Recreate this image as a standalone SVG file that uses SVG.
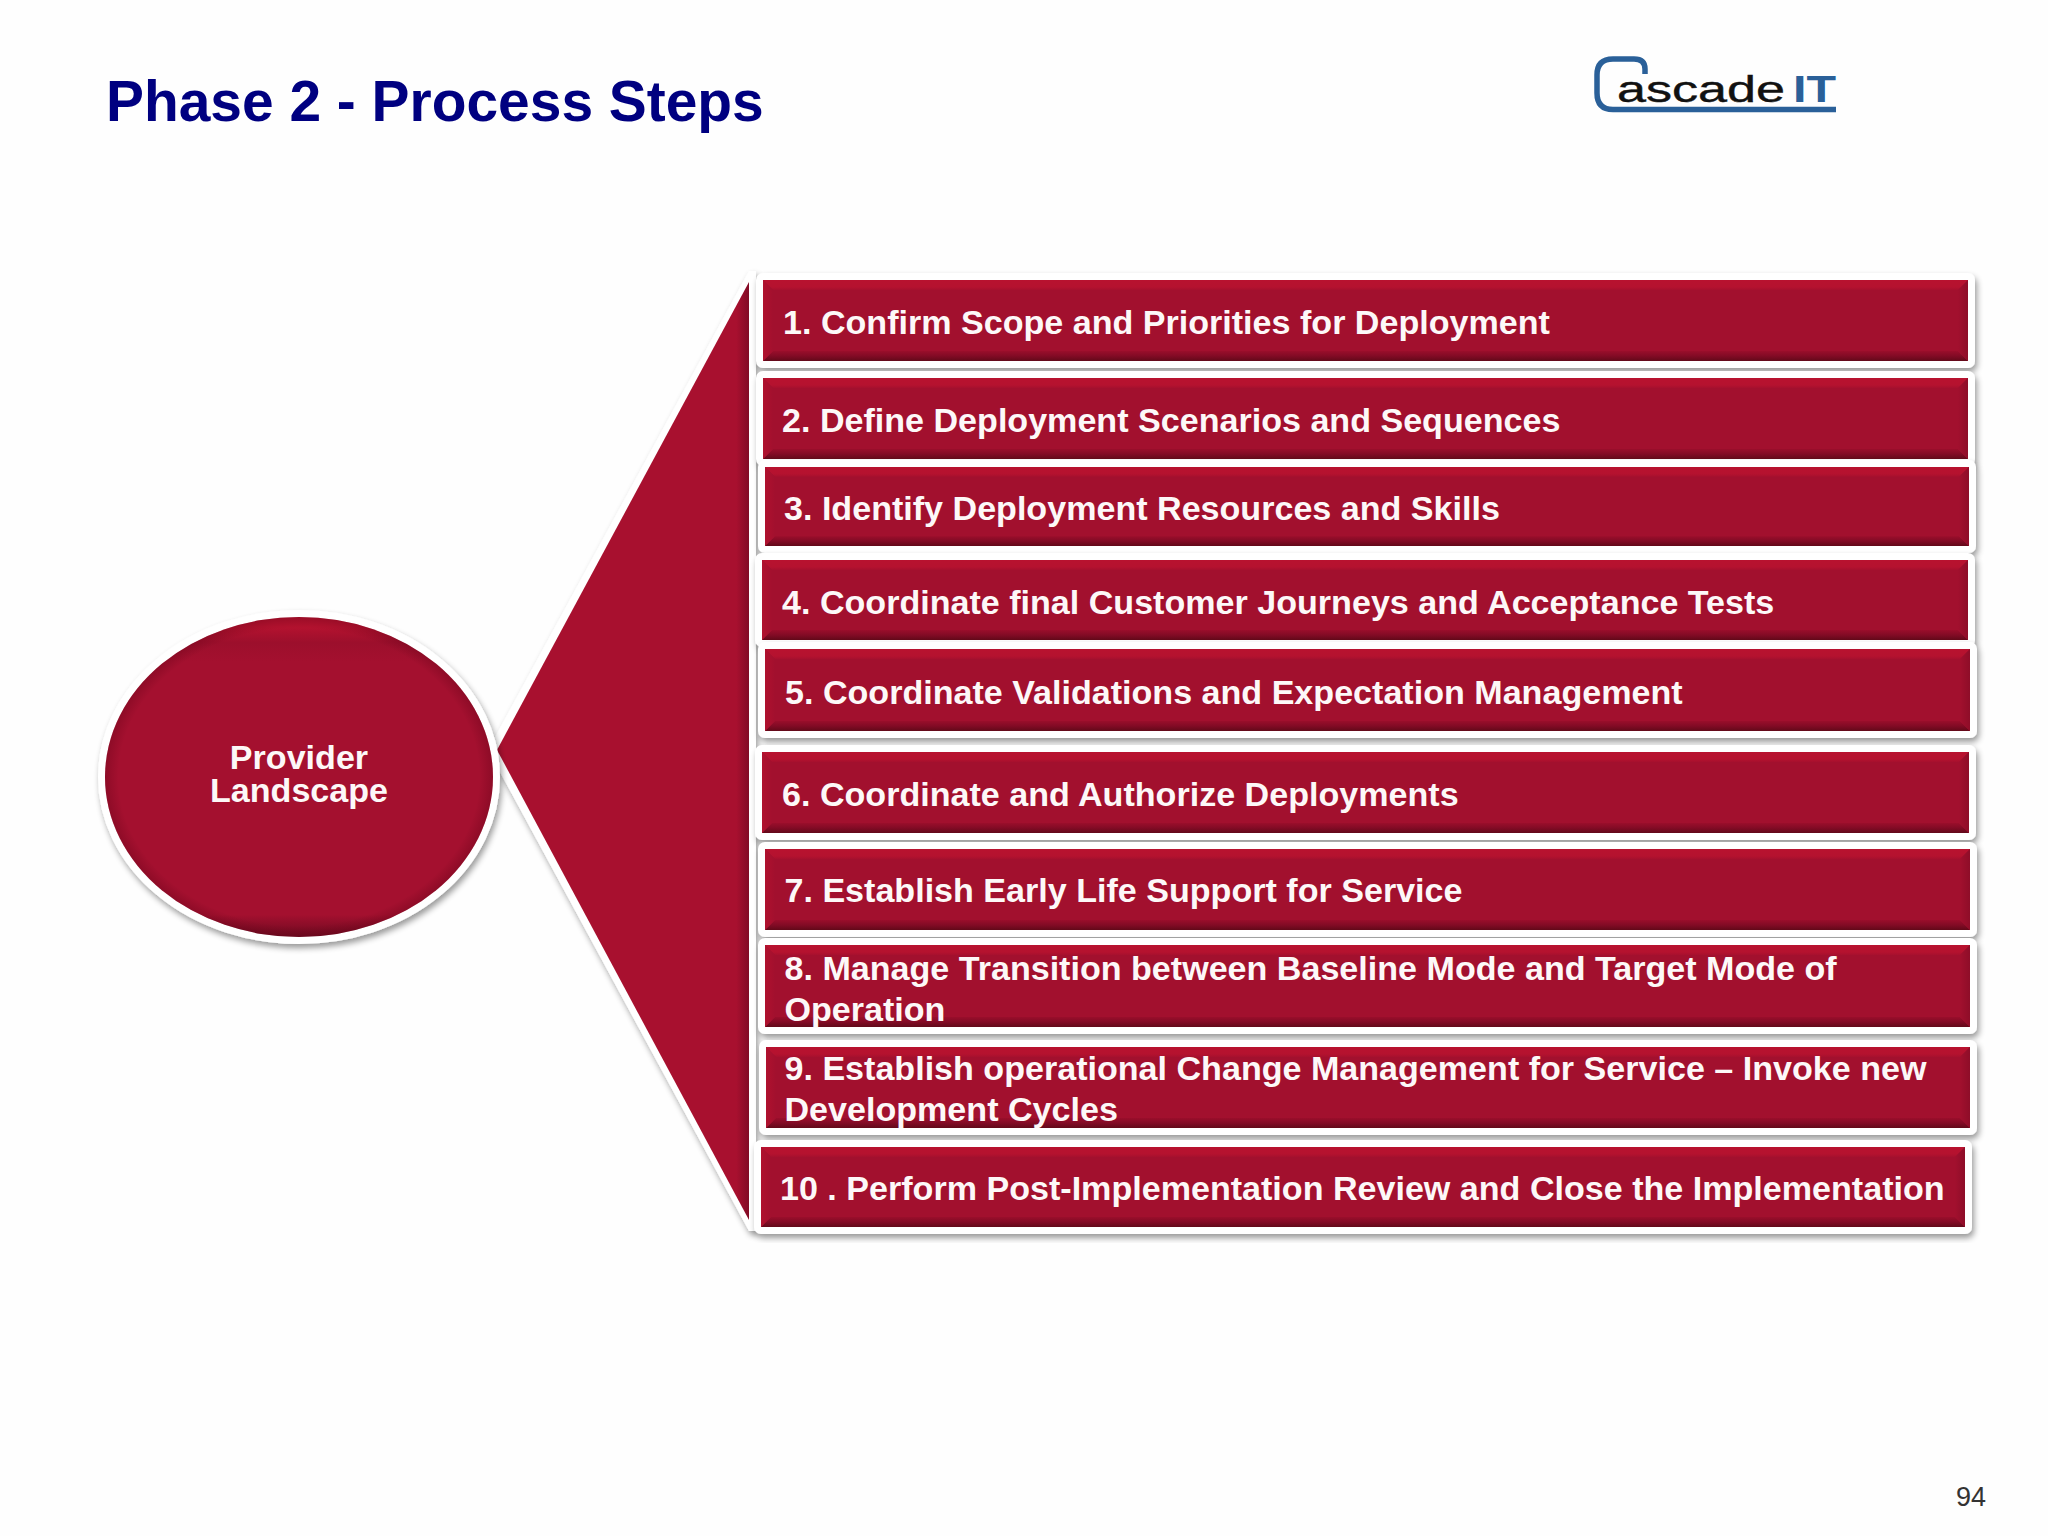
<svg xmlns="http://www.w3.org/2000/svg" xmlns:xlink="http://www.w3.org/1999/xlink" width="2048" height="1536" viewBox="0 0 2048 1536">
<style>
.t{font-family:"Liberation Sans",Arial,sans-serif;font-weight:700;font-size:34.1px;fill:#fdf8f8}
.f{fill:#fff;stroke:#fff;stroke-width:14;stroke-linejoin:round;filter:url(#sh)}
</style>
<defs>
<filter id="sh" x="-5%" y="-20%" width="110%" height="140%"><feGaussianBlur in="SourceAlpha" stdDeviation="3"/><feOffset dx="2" dy="4"/><feComponentTransfer><feFuncA type="linear" slope="0.4"/></feComponentTransfer><feMerge><feMergeNode/><feMergeNode in="SourceGraphic"/></feMerge></filter>
<linearGradient id="gt" x1="0" y1="0" x2="0" y2="1"><stop offset="0" stop-color="#b8122f"/><stop offset=".7" stop-color="#b5122f"/><stop offset="1" stop-color="#a6102e"/></linearGradient>
<linearGradient id="gb" x1="0" y1="0" x2="0" y2="1"><stop offset="0" stop-color="#9a0e2b"/><stop offset=".5" stop-color="#820b25"/><stop offset="1" stop-color="#620919"/></linearGradient>
<linearGradient id="gl" x1="0" y1="0" x2="1" y2="0"><stop offset="0" stop-color="#b0112e"/><stop offset="1" stop-color="#a2102e"/></linearGradient>
<linearGradient id="gr" x1="0" y1="0" x2="1" y2="0"><stop offset="0" stop-color="#a2102e"/><stop offset="1" stop-color="#8e0d28"/></linearGradient>
<symbol id="bar" viewBox="0 0 1205 81" preserveAspectRatio="none">
<rect width="1205" height="81" fill="#a2102e"/>
<polygon points="0,0 1205,0 1195,10 10,10" fill="url(#gt)"/>
<polygon points="0,81 10,71 1195,71 1205,81" fill="url(#gb)"/>
<polygon points="0,0 10,10 10,71 0,81" fill="url(#gl)"/>
<polygon points="1205,0 1195,10 1195,71 1205,81" fill="url(#gr)"/>
</symbol>
<linearGradient id="el" x1="0" y1="0" x2="0" y2="1"><stop offset="0" stop-color="#b5122f"/><stop offset=".03" stop-color="#b5122f"/><stop offset=".08" stop-color="#9c0f2c"/><stop offset=".14" stop-color="#a4102f"/><stop offset=".93" stop-color="#a4102f"/><stop offset="1" stop-color="#6e0a20"/></linearGradient>
<radialGradient id="rim"><stop offset=".93" stop-color="#5a0014" stop-opacity="0"/><stop offset="1" stop-color="#5a0014" stop-opacity=".3"/></radialGradient>
<linearGradient id="tr" x1="0" y1="0" x2="1" y2="0"><stop offset="0" stop-color="#a8102f"/><stop offset=".95" stop-color="#a8102f"/><stop offset="1" stop-color="#820b25"/></linearGradient>
</defs>
<rect width="2048" height="1536" fill="#fefefe"/>
<text x="106" y="121" style="font-family:'Liberation Sans',Arial,sans-serif;font-weight:700;font-size:56.900px;fill:#000080">Phase 2 - Process Steps</text>
<g id="logo">
<path d="M1645 74V69Q1645 59 1634 59H1613Q1597 59 1597 75V93Q1597 109.500 1613 109.500H1836" fill="none" stroke="#2a6099" stroke-width="5.500"/>
<text x="1617" y="102" textLength="168" lengthAdjust="spacingAndGlyphs" style="font-family:'Liberation Sans',Arial,sans-serif;font-size:36px;fill:#111;stroke:#111;stroke-width:.4">ascade</text>
<text x="1793" y="102" textLength="43" lengthAdjust="spacingAndGlyphs" style="font-family:'Liberation Sans',Arial,sans-serif;font-weight:700;font-size:37px;fill:#2a6099">IT</text>
</g>
<g id="connectors">
<polygon id="fan-frame" points="488,750 749,271 756,271 756,1231 749,1231" fill="#fff" filter="url(#sh)"/>
<polygon id="fan" points="497,750 749,282 749,1220" fill="url(#tr)"/>
</g>
<g id="provider">
<ellipse class="f" cx="299" cy="777" rx="194" ry="160"/>
<ellipse cx="299" cy="777" rx="194" ry="160" fill="url(#el)"/>
<ellipse cx="299" cy="777" rx="194" ry="160" fill="url(#rim)"/>
<text class="t" x="299" y="769" text-anchor="middle">Provider</text>
<text class="t" x="299" y="802" text-anchor="middle">Landscape</text>
</g>
<g id="step1"><rect class="f" x="763" y="280" width="1205" height="81"/><use xlink:href="#bar" href="#bar" x="763" y="280" width="1205" height="81"/><text class="t" x="783" y="334">1. Confirm Scope and Priorities for Deployment</text></g>
<g id="step2"><rect class="f" x="763" y="378" width="1205" height="81"/><use xlink:href="#bar" href="#bar" x="763" y="378" width="1205" height="81"/><text class="t" x="782" y="431.500">2. Define Deployment Scenarios and Sequences</text></g>
<g id="step3"><rect class="f" x="765" y="467" width="1204" height="79"/><use xlink:href="#bar" href="#bar" x="765" y="467" width="1204" height="79"/><text class="t" x="784" y="519.500">3. Identify Deployment Resources and Skills</text></g>
<g id="step4"><rect class="f" x="762" y="560" width="1206" height="80"/><use xlink:href="#bar" href="#bar" x="762" y="560" width="1206" height="80"/><text class="t" x="782" y="613.500">4. Coordinate final Customer Journeys and Acceptance Tests</text></g>
<g id="step5"><rect class="f" x="765" y="649" width="1205" height="82"/><use xlink:href="#bar" href="#bar" x="765" y="649" width="1205" height="82"/><text class="t" x="785" y="703.500">5. Coordinate Validations and Expectation Management</text></g>
<g id="step6"><rect class="f" x="762" y="752" width="1207" height="81"/><use xlink:href="#bar" href="#bar" x="762" y="752" width="1207" height="81"/><text class="t" x="782" y="806">6. Coordinate and Authorize Deployments</text></g>
<g id="step7"><rect class="f" x="765" y="849" width="1205" height="81"/><use xlink:href="#bar" href="#bar" x="765" y="849" width="1205" height="81"/><text class="t" x="784.500" y="901.500">7. Establish Early Life Support for Service</text></g>
<g id="step8"><rect class="f" x="765" y="945" width="1205" height="82"/><use xlink:href="#bar" href="#bar" x="765" y="945" width="1205" height="82"/><text class="t" x="784.500" y="979.500">8. Manage Transition between Baseline Mode and Target Mode of</text><text class="t" x="784.500" y="1020.500">Operation</text></g>
<g id="step9"><rect class="f" x="766" y="1047" width="1204" height="81"/><use xlink:href="#bar" href="#bar" x="766" y="1047" width="1204" height="81"/><text class="t" x="784.500" y="1080">9. Establish operational Change Management for Service – Invoke new</text><text class="t" x="784.500" y="1121">Development Cycles</text></g>
<g id="step10"><rect class="f" x="761" y="1147" width="1204" height="80"/><use xlink:href="#bar" href="#bar" x="761" y="1147" width="1204" height="80"/><text class="t" x="780" y="1200">10 . Perform Post-Implementation Review and Close the Implementation</text></g>
<text x="1956" y="1506" style="font-family:'Liberation Sans',Arial,sans-serif;font-size:27px;fill:#333">94</text>
</svg>
